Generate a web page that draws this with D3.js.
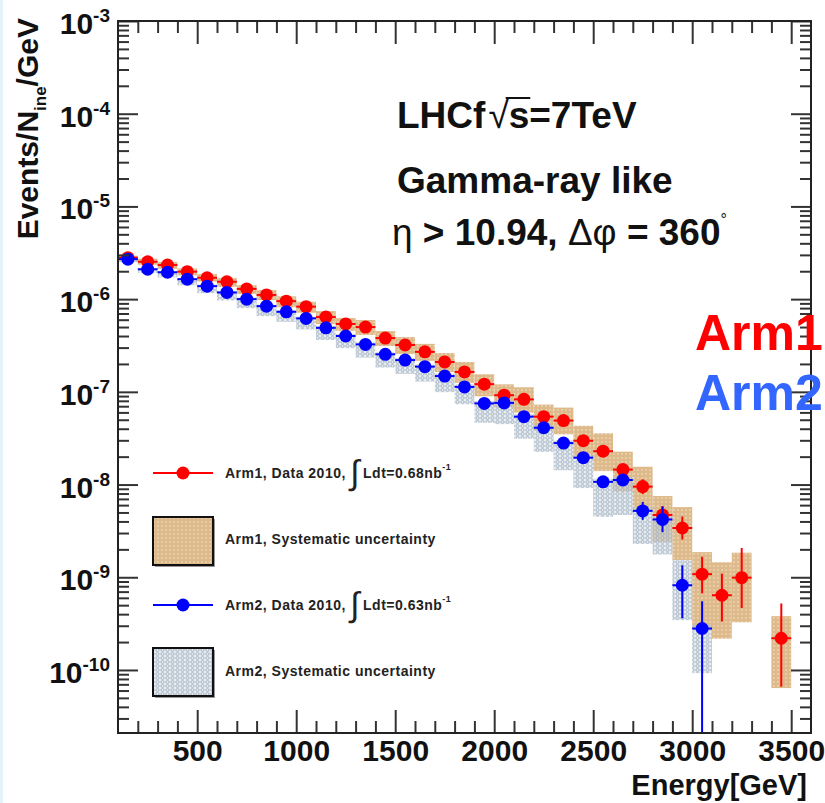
<!DOCTYPE html>
<html lang="en">
<head>
<meta charset="utf-8">
<title>LHCf gamma-ray like spectrum</title>
<script src="https://cdn.jsdelivr.net/npm/d3@7"></script>
<style>
    body {
        margin: 0;
        background: white;
    }

    svg {
        display: block;
        font-family: "Liberation Sans", Arial, Helvetica, sans-serif;
    }

    .axis path {
        display: none;
    }

    .axis line {
        stroke: #333;
        stroke-width: 2;
    }

    .axis text {
        font-family: "Liberation Sans", Arial, sans-serif;
        font-size: 30px;
        font-weight: bold;
        fill: #111;
    }
</style>
</head>
<body>
<div id="chart"></div>
<script>
    // Axis ranges and tick labels
    var energyRange = [100, 3600];
    var yRange = [2.09e-11, 1e-3];
    var xTickLabels = [500, 1000, 1500, 2000, 2500, 3000, 3500];
    var yTickExponents = [-3, -4, -5, -6, -7, -8, -9, -10];
    var binHalf = 50;

    // Arm1 (bin centres in GeV, Events/N_ine/GeV, relative errors)
    var arm1E = [150, 250, 350, 450, 550, 650, 750, 850, 950, 1050, 1150, 1250, 1350, 1450, 1550, 1650, 1750,
        1850, 1950, 2050, 2150, 2250, 2350, 2450, 2550, 2650, 2750, 2850, 2950, 3050, 3150, 3250, 3450];
    var arm1Val = [2.8e-6, 2.53e-6, 2.33e-6, 1.98e-6, 1.70e-6, 1.54e-6, 1.29e-6, 1.11e-6, 9.5e-7, 8.3e-7,
        6.4e-7, 5.4e-7, 5.0e-7, 3.8e-7, 3.2e-7, 2.7e-7, 2.1e-7, 1.64e-7, 1.21e-7, 9.2e-8, 8.3e-8, 5.4e-8,
        4.9e-8, 2.97e-8, 2.29e-8, 1.45e-8, 9.5e-9, 4.7e-9, 3.4e-9, 1.08e-9, 6.4e-10, 9.9e-10, 2.2e-10];
    var arm1StatUp = [0.01, 0.01, 0.01, 0.01, 0.01, 0.01, 0.01, 0.01, 0.01, 0.01, 0.02, 0.02, 0.02, 0.02, 0.02,
        0.02, 0.03, 0.03, 0.04, 0.04, 0.05, 0.05, 0.06, 0.07, 0.09, 0.11, 0.20, 0.25, 0.33, 0.54, 0.71, 1.09, 1.37];
    var arm1StatDn = [0.01, 0.01, 0.01, 0.01, 0.01, 0.01, 0.01, 0.01, 0.01, 0.01, 0.02, 0.02, 0.02, 0.02, 0.02,
        0.02, 0.03, 0.03, 0.04, 0.04, 0.05, 0.05, 0.06, 0.07, 0.08, 0.10, 0.17, 0.20, 0.25, 0.38, 0.48, 0.53, 0.70];
    var arm1SysUp = [0.05, 0.08, 0.08, 0.08, 0.10, 0.10, 0.10, 0.13, 0.13, 0.13, 0.16, 0.16, 0.19, 0.19, 0.22,
        0.22, 0.25, 0.28, 0.28, 0.31, 0.35, 0.35, 0.38, 0.45, 0.56, 0.56, 0.64, 0.60, 0.68, 0.73, 1.27, 0.86, 0.73];
    var arm1SysDn = [0.07, 0.07, 0.09, 0.09, 0.09, 0.12, 0.12, 0.12, 0.14, 0.14, 0.16, 0.16, 0.18, 0.18, 0.20,
        0.20, 0.22, 0.24, 0.26, 0.26, 0.28, 0.29, 0.29, 0.33, 0.39, 0.42, 0.45, 0.49, 0.55, 0.75, 0.66, 0.67, 0.71];

    // Arm2
    var arm2E = [150, 250, 350, 450, 550, 650, 750, 850, 950, 1050, 1150, 1250, 1350, 1450, 1550, 1650, 1750,
        1850, 1950, 2050, 2150, 2250, 2350, 2450, 2550, 2650, 2750, 2850, 2950, 3050];
    var arm2Val = [2.7e-6, 2.1e-6, 1.95e-6, 1.64e-6, 1.38e-6, 1.18e-6, 1.0e-6, 8.4e-7, 7.3e-7, 6.2e-7, 4.9e-7,
        4.0e-7, 3.25e-7, 2.54e-7, 2.2e-7, 1.87e-7, 1.48e-7, 1.13e-7, 7.5e-8, 7.6e-8, 5.4e-8, 4.1e-8, 2.8e-8,
        1.95e-8, 1.07e-8, 1.12e-8, 5.2e-9, 4.2e-9, 8.2e-10, 2.8e-10];
    var arm2StatUp = [0.01, 0.01, 0.01, 0.01, 0.01, 0.01, 0.01, 0.01, 0.01, 0.01, 0.02, 0.02, 0.02, 0.02, 0.02,
        0.02, 0.03, 0.03, 0.04, 0.04, 0.05, 0.05, 0.06, 0.08, 0.11, 0.12, 0.25, 0.38, 0.64, 0.97];
    var arm2StatDn = [0.01, 0.01, 0.01, 0.01, 0.01, 0.01, 0.01, 0.01, 0.01, 0.01, 0.02, 0.02, 0.02, 0.02, 0.02,
        0.02, 0.03, 0.03, 0.04, 0.04, 0.05, 0.05, 0.06, 0.08, 0.10, 0.11, 0.20, 0.27, 0.56, 1.0];
    var arm2SysUp = [0.03, 0.03, 0.03, 0.03, 0.04, 0.04, 0.04, 0.04, 0.04, 0.04, 0.05, 0.05, 0.05, 0.05, 0.05,
        0.05, 0.06, 0.06, 0.06, 0.06, 0.06, 0.07, 0.07, 0.07, 0.08, 0.08, 0.10, 0.10, 0.86, 0.10];
    var arm2SysDn = [0.07, 0.09, 0.12, 0.14, 0.16, 0.18, 0.20, 0.22, 0.22, 0.24, 0.26, 0.26, 0.28, 0.28, 0.29,
        0.31, 0.33, 0.35, 0.38, 0.41, 0.42, 0.45, 0.49, 0.53, 0.58, 0.58, 0.56, 0.58, 0.58, 0.67];

    var width = 825;
    var height = 803;
    var frame = { left: 118, right: 811, top: 21, bottom: 733 };
    var red = "#ff0000";
    var blue = "#0000ff";
    var markR = 6.5;

    var svg = d3.select("#chart").append("svg")
        .attr("width", width)
        .attr("height", height);

    svg.append("rect").attr("width", width).attr("height", height).attr("fill", "white");
    svg.append("rect").attr("x", 0).attr("width", 3).attr("height", height).attr("fill", "#e4f2f9");

    var xScale = d3.scaleLinear().domain(energyRange).range([frame.left, frame.right]);
    var yScale = d3.scaleLog().domain(yRange).range([frame.bottom, frame.top]);

    // fill patterns for the systematic boxes
    var defs = svg.append("defs");
    var p1 = defs.append("pattern").attr("id", "arm1Sys")
        .attr("patternUnits", "userSpaceOnUse").attr("width", 4).attr("height", 4);
    p1.append("rect").attr("width", 4).attr("height", 4).attr("fill", "#deba8b");
    p1.append("circle").attr("cx", 2).attr("cy", 2).attr("r", 0.8).attr("fill", "#f2e4cf");

    var p2 = defs.append("pattern").attr("id", "arm2Sys")
        .attr("patternUnits", "userSpaceOnUse").attr("width", 5).attr("height", 4);
    p2.append("rect").attr("width", 5).attr("height", 4).attr("fill", "rgba(208,217,226,0.5)");
    p2.append("ellipse").attr("cx", 2.5).attr("cy", 2).attr("rx", 1.7).attr("ry", 1.4)
        .attr("fill", "none").attr("stroke", "#9fafbf").attr("stroke-width", 0.9);

    function rows(E, val, su, sd, eu, ed) {
        return E.map(function(e, i) {
            return { e: e, v: val[i], su: su[i], sd: sd[i], eu: eu[i], ed: ed[i] };
        });
    }
    var arm1 = rows(arm1E, arm1Val, arm1SysUp, arm1SysDn, arm1StatUp, arm1StatDn);
    var arm2 = rows(arm2E, arm2Val, arm2SysUp, arm2SysDn, arm2StatUp, arm2StatDn);

    function yLow(v) {
        return v > yRange[0] ? yScale(v) : frame.bottom;
    }

    function drawSys(data, fill) {
        svg.append("g").selectAll("rect")
            .data(data)
            .join("rect")
            .attr("x", function(d) { return xScale(d.e - binHalf); })
            .attr("width", function(d) { return xScale(d.e + binHalf) - xScale(d.e - binHalf); })
            .attr("y", function(d) { return yScale(d.v * (1 + d.su)); })
            .attr("height", function(d) { return yLow(d.v * (1 - d.sd)) - yScale(d.v * (1 + d.su)); })
            .attr("fill", fill);
    }

    function drawPoints(data, color) {
        var g = svg.append("g");
        g.selectAll("line.v")
            .data(data)
            .join("line")
            .attr("class", "v")
            .attr("x1", function(d) { return xScale(d.e); })
            .attr("x2", function(d) { return xScale(d.e); })
            .attr("y1", function(d) { return yScale(d.v * (1 + d.eu)); })
            .attr("y2", function(d) { return yLow(d.v * (1 - d.ed)); })
            .attr("stroke", color)
            .attr("stroke-width", 2);
        g.selectAll("line.h")
            .data(data)
            .join("line")
            .attr("class", "h")
            .attr("x1", function(d) { return xScale(d.e - binHalf); })
            .attr("x2", function(d) { return xScale(d.e + binHalf); })
            .attr("y1", function(d) { return yScale(d.v); })
            .attr("y2", function(d) { return yScale(d.v); })
            .attr("stroke", color)
            .attr("stroke-width", 2);
        g.selectAll("circle")
            .data(data)
            .join("circle")
            .attr("cx", function(d) { return xScale(d.e); })
            .attr("cy", function(d) { return yScale(d.v); })
            .attr("r", markR)
            .attr("fill", color);
    }

    drawSys(arm1, "url(#arm1Sys)");
    drawSys(arm2, "url(#arm2Sys)");
    drawPoints(arm1, red);
    drawPoints(arm2, blue);

    // axes (ticks inside the frame, mirrored on top and right)
    var xMinor = d3.range(200, 3600, 100).filter(function(v) { return v % 500 !== 0; });
    var yMajor = yTickExponents.map(function(p) { return Math.pow(10, p); });
    var yMinor = [];
    for (var p = -11; p <= -4; p++) {
        for (var k = 2; k <= 9; k++) {
            var val = k * Math.pow(10, p);
            if (val > yRange[0] && val < yRange[1]) yMinor.push(val);
        }
    }

    svg.append("g").attr("class", "axis")
        .attr("transform", "translate(0," + frame.bottom + ")")
        .call(d3.axisBottom(xScale).tickValues(xTickLabels).tickSize(-23).tickPadding(7).tickFormat(d3.format("d")));
    svg.append("g").attr("class", "axis")
        .attr("transform", "translate(0," + frame.bottom + ")")
        .call(d3.axisBottom(xScale).tickValues(xMinor).tickSize(-12).tickFormat(""));
    svg.append("g").attr("class", "axis")
        .attr("transform", "translate(0," + frame.top + ")")
        .call(d3.axisTop(xScale).tickValues(xTickLabels).tickSize(-23).tickFormat(""));
    svg.append("g").attr("class", "axis")
        .attr("transform", "translate(0," + frame.top + ")")
        .call(d3.axisTop(xScale).tickValues(xMinor).tickSize(-12).tickFormat(""));

    svg.append("g").attr("class", "axis")
        .attr("transform", "translate(" + frame.left + ",0)")
        .call(d3.axisLeft(yScale).tickValues(yMajor).tickSize(-20).tickFormat(""));
    svg.append("g").attr("class", "axis")
        .attr("transform", "translate(" + frame.left + ",0)")
        .call(d3.axisLeft(yScale).tickValues(yMinor).tickSize(-11).tickFormat(""));
    svg.append("g").attr("class", "axis")
        .attr("transform", "translate(" + frame.right + ",0)")
        .call(d3.axisRight(yScale).tickValues(yMajor).tickSize(-20).tickFormat(""));
    svg.append("g").attr("class", "axis")
        .attr("transform", "translate(" + frame.right + ",0)")
        .call(d3.axisRight(yScale).tickValues(yMinor).tickSize(-11).tickFormat(""));

    // y tick labels 10^n
    var yLabels = svg.append("g").selectAll("text")
        .data(yTickExponents)
        .join("text")
        .attr("x", 110)
        .attr("y", function(d) { return yScale(Math.pow(10, d)) + 13; })
        .attr("text-anchor", "end")
        .attr("font-weight", "bold")
        .attr("font-size", 30)
        .attr("fill", "#111");
    yLabels.append("tspan").text("10");
    yLabels.append("tspan").attr("dy", -12).attr("font-size", 19).text(function(d) { return String(d); });

    // frame
    svg.append("rect")
        .attr("x", frame.left).attr("y", frame.top)
        .attr("width", frame.right - frame.left).attr("height", frame.bottom - frame.top)
        .attr("fill", "none").attr("stroke", "#222").attr("stroke-width", 2);

    // axis titles
    svg.append("text")
        .attr("x", 807).attr("y", 795)
        .attr("text-anchor", "end")
        .attr("font-size", 29).attr("font-weight", "bold").attr("fill", "#111")
        .text("Energy[GeV]");

    var yTitle = svg.append("text")
        .attr("transform", "translate(38,18) rotate(-90)")
        .attr("text-anchor", "end")
        .attr("font-size", 30).attr("font-weight", "bold").attr("fill", "#111");
    yTitle.append("tspan").text("Events/N");
    yTitle.append("tspan").attr("font-size", 17).attr("dy", 8).text("ine");
    yTitle.append("tspan").attr("dy", -8).text("/GeV");

    // annotations
    var t1 = svg.append("text")
        .attr("x", 397).attr("y", 128)
        .attr("font-size", 37).attr("font-weight", "bold").attr("fill", "#111");
    t1.append("tspan").text("LHCf");
    t1.append("tspan").attr("font-weight", "normal").attr("dx", 3).text("\u221A");
    t1.append("tspan").text("s=7TeV");
    var sBox = t1.node().getExtentOfChar(5);
    svg.append("line")
        .attr("x1", sBox.x - 3).attr("x2", sBox.x + sBox.width + 1)
        .attr("y1", 98).attr("y2", 98)
        .attr("stroke", "#111").attr("stroke-width", 2);

    svg.append("text")
        .attr("x", 397).attr("y", 193)
        .attr("font-size", 37).attr("font-weight", "bold").attr("fill", "#111")
        .text("Gamma-ray like");

    var t3 = svg.append("text")
        .attr("x", 392).attr("y", 245)
        .attr("font-size", 37).attr("font-weight", "bold").attr("fill", "#111");
    t3.append("tspan").attr("font-weight", "normal").text("\u03B7");
    t3.append("tspan").text(" > 10.94, ");
    t3.append("tspan").attr("font-weight", "normal").text("\u0394\u03C6");
    t3.append("tspan").text(" = 360");
    t3.append("tspan").attr("font-size", 16).attr("font-weight", "normal").attr("dy", -20).text("\u00B0");

    svg.append("text")
        .attr("x", 695).attr("y", 350)
        .attr("font-size", 50).attr("font-weight", "bold").attr("fill", red)
        .text("Arm1");
    svg.append("text")
        .attr("x", 695).attr("y", 410)
        .attr("font-size", 50).attr("font-weight", "bold").attr("fill", "#3366ff")
        .text("Arm2");

    // legend
    var legend = svg.append("g")
        .attr("font-size", 14).attr("font-weight", "bold").attr("fill", "#222")
        .attr("letter-spacing", 0.5);

    function legendLine(y, color) {
        legend.append("line").attr("x1", 153).attr("x2", 213).attr("y1", y).attr("y2", y)
            .attr("stroke", color).attr("stroke-width", 2);
        legend.append("circle").attr("cx", 183).attr("cy", y).attr("r", markR).attr("fill", color);
    }

    function legendBox(y, fill) {
        legend.append("rect").attr("x", 155).attr("y", y + 2).attr("width", 60).attr("height", 48)
            .attr("fill", "#999");
        legend.append("rect").attr("x", 153).attr("y", y).attr("width", 60).attr("height", 48)
            .attr("fill", "white");
        legend.append("rect").attr("x", 153).attr("y", y).attr("width", 60).attr("height", 48)
            .attr("fill", fill).attr("stroke", "#111").attr("stroke-width", 2);
    }

    function legendData(y, label) {
        var t = legend.append("text").attr("x", 225).attr("y", y);
        t.append("tspan").text(label + ", Data 2010, ");
        t.append("tspan").attr("font-size", 34).attr("font-weight", "normal").attr("dy", 6).text("\u222B");
        t.append("tspan").attr("dy", -6).attr("dx", 3).text(label === "Arm1" ? "Ldt=0.68nb" : "Ldt=0.63nb");
        t.append("tspan").attr("font-size", 9).attr("dy", -8).text("-1");
    }

    legendLine(473, red);
    legendData(478, "Arm1");
    legendBox(517, "url(#arm1Sys)");
    legend.append("text").attr("x", 225).attr("y", 544).text("Arm1, Systematic uncertainty");
    legendLine(605, blue);
    legendData(610, "Arm2");
    legendBox(648, "url(#arm2Sys)");
    legend.append("text").attr("x", 225).attr("y", 676).text("Arm2, Systematic uncertainty");
</script>
</body>
</html>
